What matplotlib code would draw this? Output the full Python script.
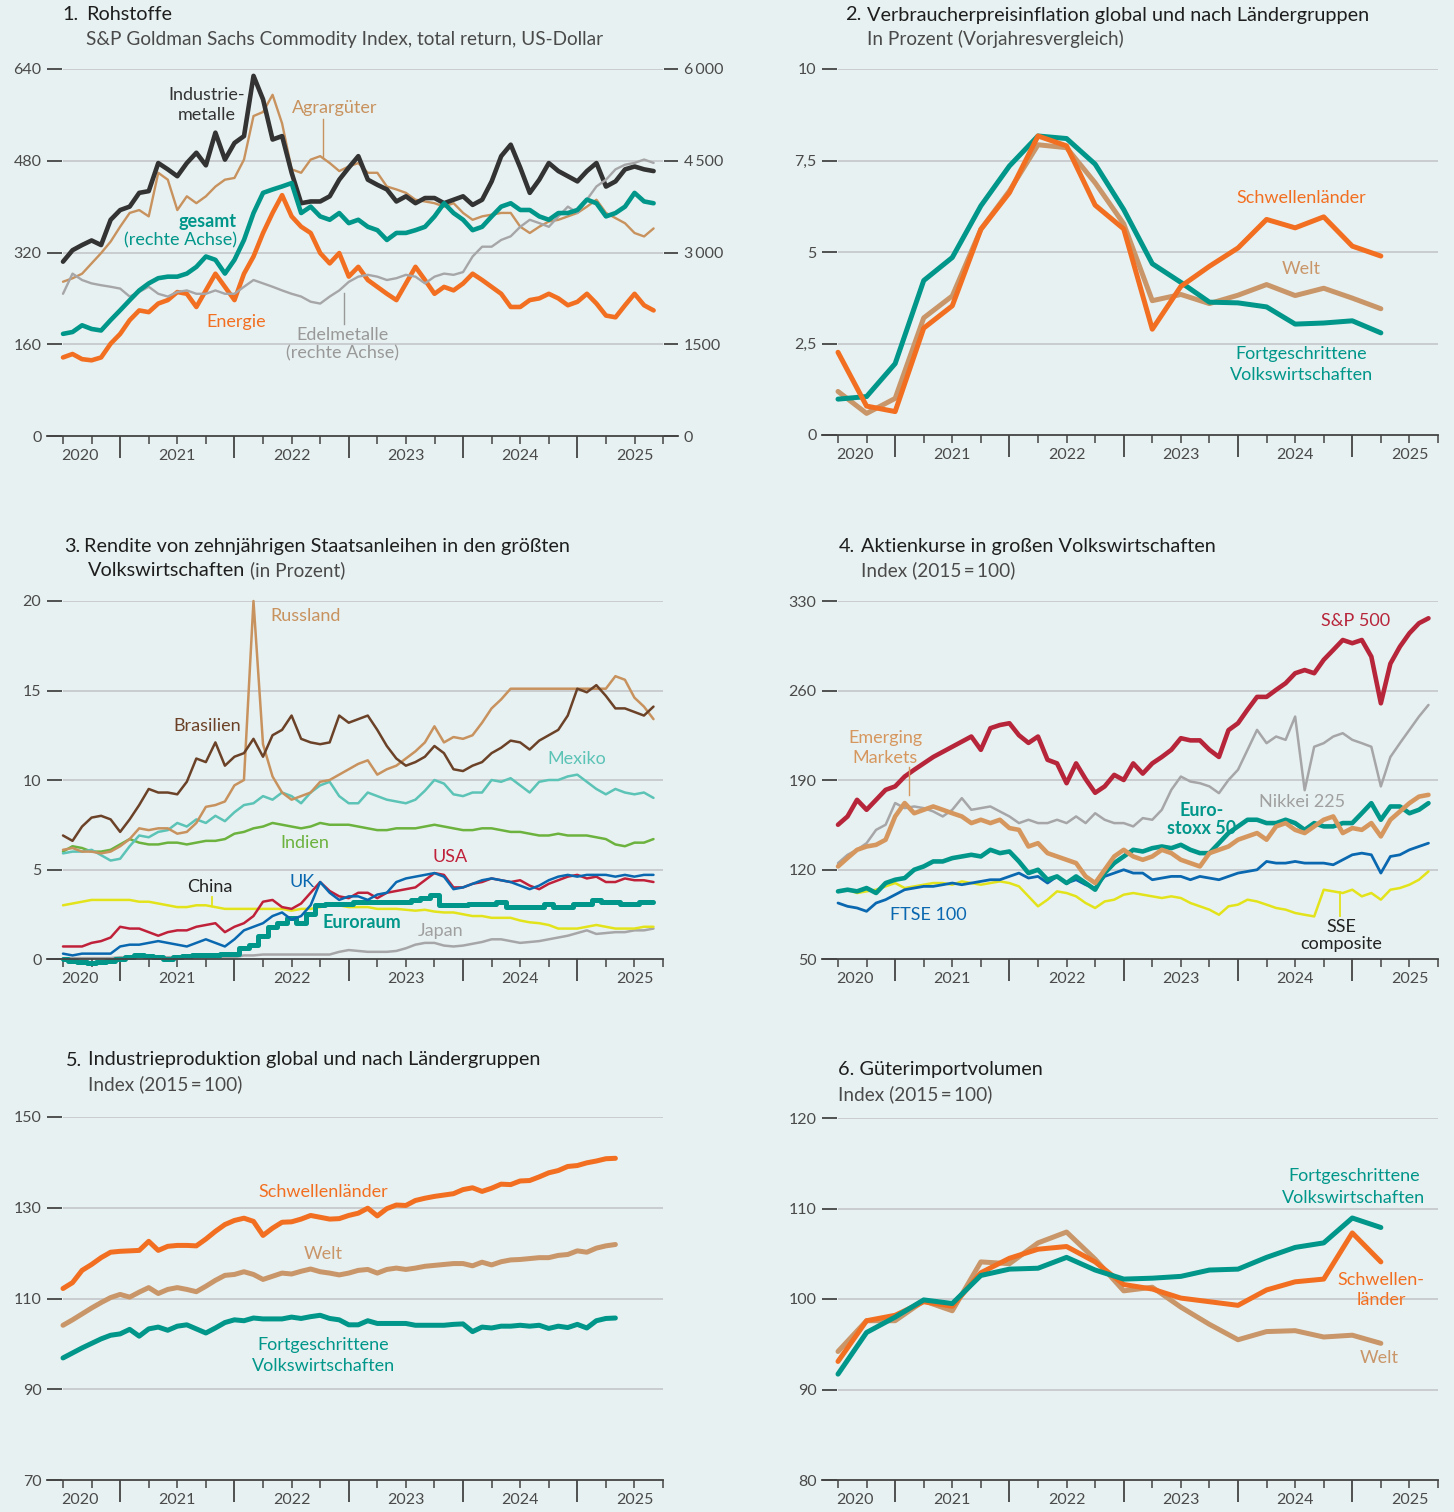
import numpy as np
import matplotlib
matplotlib.use('Agg')
import matplotlib.pyplot as plt
from matplotlib.lines import Line2D

plt.rcParams['font.family'] = ['Lato', 'DejaVu Sans']

# ---------------- data ----------------
START = 2020.5  # first observation (mid-2020)

# Panel 1: S&P GSCI total return (monthly readings)
ind_metals = [304,324,333,341,333,377,394,400,424,427,476,465,453,476,494,472,529,482,511,523,628,587,517,523,459,406,409,409,418,447,468,488,447,438,430,409,418,406,415,415,406,412,418,403,412,444,488,508,468,424,447,476,462,453,444,462,476,435,444,465,470,465,462]
agrar = [269,275,283,301,319,339,365,389,394,383,459,447,394,418,406,418,435,447,450,482,558,565,595,545,465,459,482,488,476,462,470,476,459,459,435,430,424,412,409,406,400,406,389,377,383,386,389,389,365,354,365,374,377,383,389,400,412,389,380,371,354,348,362]
energie = [137,143,134,132,137,161,178,202,219,216,231,237,251,248,225,254,283,260,237,283,313,354,389,420,383,365,354,319,301,319,278,295,272,260,248,237,266,295,272,248,260,254,266,283,272,260,248,225,225,237,240,248,240,228,234,248,231,210,207,228,248,228,219]
gesamt = [1670,1700,1810,1750,1725,1895,2055,2220,2380,2495,2580,2605,2605,2655,2765,2935,2880,2655,2880,3205,3645,3975,4030,4080,4135,3645,3750,3590,3535,3645,3480,3535,3420,3365,3205,3320,3320,3365,3420,3590,3805,3645,3535,3365,3420,3590,3750,3805,3695,3695,3590,3535,3645,3645,3695,3865,3805,3590,3645,3750,3975,3835,3805]
edelmetalle = [2325,2655,2550,2495,2465,2440,2410,2280,2355,2440,2325,2280,2355,2380,2325,2325,2380,2325,2325,2440,2550,2495,2440,2380,2325,2280,2195,2165,2280,2380,2520,2605,2635,2605,2550,2580,2635,2605,2495,2605,2655,2635,2680,2935,3095,3095,3205,3265,3420,3535,3480,3420,3590,3750,3645,3865,4080,4190,4360,4435,4465,4520,4465]

# Panel 2: consumer price inflation (quarterly, %)
cpi_fort = [0.98,1.05,1.95,4.22,4.85,6.26,7.35,8.17,8.10,7.40,6.16,4.68,4.17,3.63,3.61,3.50,3.03,3.06,3.12,2.79]
cpi_schw = [2.26,0.79,0.64,2.92,3.53,5.62,6.62,8.17,7.90,6.28,5.63,2.89,4.06,4.61,5.11,5.89,5.66,5.96,5.16,4.89]
cpi_welt = [1.19,0.59,1.00,3.20,3.80,5.62,6.67,7.93,7.85,6.89,5.77,3.67,3.84,3.59,3.82,4.11,3.81,4.01,3.74,3.45]

# Panel 3: 10-year government bond yields (monthly readings, %)
brasil = [6.9,6.6,7.4,7.9,8.0,7.8,7.1,7.8,8.6,9.5,9.3,9.3,9.2,9.9,11.2,11.0,12.1,10.8,11.3,11.5,12.3,11.3,12.5,12.8,13.6,12.3,12.1,12.0,12.1,13.6,13.2,13.4,13.6,12.8,11.9,11.2,10.8,11.0,11.3,11.9,11.5,10.6,10.5,10.8,11.0,11.5,11.8,12.2,12.1,11.7,12.2,12.5,12.8,13.6,15.1,14.9,15.3,14.7,14.0,14.0,13.8,13.6,14.1]
russland = [6.1,6.2,6.0,6.0,5.9,6.0,6.3,6.7,7.3,7.2,7.3,7.3,7.0,7.1,7.6,8.5,8.6,8.8,9.7,10.0,20.0,12.0,10.2,9.3,8.9,9.1,9.3,9.9,10.0,10.3,10.6,10.9,11.1,10.3,10.6,10.8,11.2,11.6,12.1,13.0,12.1,12.4,12.3,12.5,13.2,14.0,14.5,15.1,15.1,15.1,15.1,15.1,15.1,15.1,15.1,15.1,15.1,15.1,15.8,15.6,14.6,14.1,13.4]
mexiko = [5.9,6.0,6.0,6.1,5.8,5.5,5.6,6.3,6.9,6.8,7.1,7.2,7.6,7.4,7.8,7.6,8.0,7.7,8.2,8.6,8.7,9.1,8.9,9.3,9.1,8.7,9.3,9.7,9.9,9.1,8.7,8.7,9.3,9.1,8.9,8.8,8.7,8.9,9.4,10.0,9.8,9.2,9.1,9.3,9.3,10.0,9.9,10.1,9.7,9.3,9.9,10.0,10.0,10.2,10.3,9.9,9.5,9.2,9.5,9.3,9.2,9.3,9.0]
indien = [6.0,6.3,6.2,6.0,6.0,6.1,6.4,6.7,6.5,6.4,6.4,6.5,6.5,6.4,6.5,6.6,6.6,6.7,7.0,7.1,7.3,7.4,7.6,7.5,7.4,7.3,7.4,7.6,7.5,7.5,7.5,7.4,7.3,7.2,7.2,7.3,7.3,7.3,7.4,7.5,7.4,7.3,7.2,7.2,7.3,7.3,7.2,7.1,7.1,7.0,6.9,6.9,7.0,6.9,6.9,6.9,6.8,6.7,6.4,6.3,6.5,6.5,6.7]
usa = [0.7,0.7,0.7,0.9,1.0,1.2,1.8,1.7,1.7,1.5,1.3,1.5,1.6,1.6,1.8,1.9,2.0,1.5,1.8,2.0,2.4,3.2,3.3,2.9,2.8,3.1,3.7,4.3,3.8,3.5,3.4,3.7,3.7,3.4,3.7,3.8,3.9,4.0,4.4,4.8,4.7,4.0,4.0,4.2,4.3,4.5,4.4,4.3,4.4,4.1,3.9,4.2,4.4,4.6,4.7,4.5,4.6,4.3,4.3,4.5,4.4,4.4,4.3]
uk = [0.3,0.2,0.3,0.3,0.3,0.3,0.7,0.8,0.8,0.9,1.0,0.9,0.8,0.7,0.9,1.1,0.9,0.7,1.1,1.6,1.8,2.0,2.4,2.6,2.2,2.4,3.0,4.3,3.7,3.3,3.5,3.5,3.3,3.6,3.7,4.3,4.5,4.6,4.7,4.8,4.6,3.9,4.0,4.2,4.4,4.5,4.4,4.3,4.1,3.9,4.1,4.4,4.6,4.7,4.6,4.7,4.7,4.7,4.6,4.7,4.6,4.7,4.7]
euroraum = [0.0,-0.1,-0.15,-0.2,-0.15,-0.1,0.0,0.1,0.2,0.15,0.1,0.0,0.1,0.15,0.2,0.2,0.2,0.3,0.3,0.6,0.8,1.3,1.8,2.0,2.3,2.0,2.5,3.0,3.1,3.1,3.1,3.2,3.2,3.2,3.2,3.2,3.2,3.3,3.4,3.6,3.0,3.0,3.0,3.1,3.1,3.1,3.2,2.9,2.9,2.9,2.9,3.1,2.9,2.9,3.1,3.1,3.3,3.2,3.2,3.1,3.1,3.2,3.2]
china = [3.0,3.1,3.2,3.3,3.3,3.3,3.3,3.3,3.2,3.2,3.1,3.0,2.9,2.9,3.0,3.0,2.9,2.8,2.8,2.8,2.8,2.8,2.8,2.8,2.7,2.8,2.8,2.9,3.0,3.0,2.9,2.9,2.9,2.8,2.8,2.8,2.75,2.7,2.75,2.65,2.6,2.6,2.5,2.4,2.4,2.3,2.3,2.3,2.15,2.05,2.0,1.9,1.7,1.7,1.7,1.8,1.9,1.8,1.7,1.7,1.7,1.8,1.8]
japan = [0.04,0.05,0.05,0.05,0.05,0.05,0.1,0.1,0.1,0.1,0.1,0.1,0.1,0.1,0.1,0.1,0.1,0.1,0.1,0.2,0.2,0.25,0.25,0.25,0.25,0.25,0.25,0.25,0.25,0.4,0.5,0.45,0.4,0.4,0.4,0.45,0.6,0.8,0.9,0.9,0.75,0.7,0.75,0.85,0.95,1.1,1.1,1.0,0.9,0.95,1.0,1.1,1.2,1.3,1.45,1.6,1.4,1.45,1.5,1.5,1.6,1.6,1.7]

# Panel 4: stock indices (2015 = 100, monthly readings)
sp500 = [155,161.5,174.5,166.7,174.5,182.3,185,192.7,198,203,208,212,216,220,224,213.6,230.5,233,234.4,225,219,224,205.8,203,187.5,203,190.7,180,185,194,190,203,195,203,208,213.6,222.7,221,221,213.6,208,229,234.4,245,255,255,260.5,265.7,273.5,276,273.5,284,291.7,299.5,297,299.5,286.5,250,281,294.3,304.8,312.6,316.5]
nikkei = [125,131.5,135.4,140.6,151,155,172,168,169.3,168,165.4,161.5,166.7,175.8,166.7,168,169.3,165.4,161.5,156.3,158.9,156.3,156.3,158.9,156.3,161.5,156.3,164,158.9,156.3,156.3,153.7,160.2,158.9,166.7,182.3,192.7,188.8,187.5,185,179.7,190,198,213.6,229.2,218.8,224,221.4,239.6,182,216,218.8,224,226.6,221.4,218.8,216,185,208,218.8,229.2,239.6,248.7]
emerging = [122.4,129,135.4,138,139.3,143.3,161.5,172,164,166.7,169.3,166.7,164,161.5,156.3,158.9,156.3,158.9,152.4,151,138,140.6,132.8,130.2,127.6,125,114.6,109.4,119.8,130.2,135.4,130.2,127.6,130.2,135.4,132.8,127.6,125,122.4,132.8,135.4,138,143.3,145.9,148.5,143.3,153.7,156.3,151,148.5,153.7,158.9,161.5,148.5,152.4,151,156.3,145.9,158.9,165.4,171.9,177,178.4]
eurostoxx = [102.9,104.2,102.9,105.5,101.6,109.4,112,113.3,119.8,122.4,126.3,126.3,128.9,130.2,131.5,130.2,135.4,132.8,134.1,126.3,117.2,119.8,112,114.6,109.4,114.6,109.4,104.2,117.2,125,130.2,135.4,134.1,136.7,138,136.7,139.3,135.4,132.8,132.8,140.6,148.5,153.7,158.9,158.9,156.3,156.3,158.9,156.3,151,156.3,153.7,153.7,156.3,156.3,164,171.9,158.9,169.3,169.3,164,166.7,171.9]
ftse = [93.8,91.2,89.9,87.3,93.8,96.4,100.3,104.2,105.5,106.8,106.8,108.1,109.4,108.1,109.4,110.7,112,112,114.6,117.2,113.3,114.6,109.4,114.6,109.4,112,108.1,105.5,114.6,117.2,119.8,117.2,117.2,112,113.3,114.6,114.6,112,114.6,113.3,112,114.6,117.2,118.5,119.8,126.3,125,125,126.3,125,125,125,123.7,127.6,131.5,132.8,131.5,117.2,130.2,131.5,135.4,138,140.6]
sse = [102.9,104.2,101.6,102.9,104.2,106.8,109.4,105.5,106.8,108.1,109.4,109.4,108.1,110.7,109.4,108.1,109.4,110.7,109.4,106.8,99,91.2,96.4,102.9,101.6,99,93.8,89.9,95,96.4,100.3,101.6,100.3,99,97.7,99,97.7,93.8,91.2,88.6,84.6,91.2,92.5,96.4,95,92.5,89.9,88.6,86,84.6,83.3,104.2,102.9,101.6,104.2,99,101.6,96.4,104.2,105.5,108.1,112,118.5]

# Panel 5: industrial production (monthly, 2015 = 100)
ip_schw = [112.2,113.5,116.2,117.5,119.0,120.2,120.4,120.5,120.6,122.6,120.6,121.5,121.7,121.7,121.6,123.1,124.8,126.3,127.2,127.7,127.0,123.9,125.5,126.8,126.9,127.5,128.3,127.9,127.5,127.6,128.3,128.8,129.9,128.2,129.8,130.6,130.5,131.6,132.1,132.5,132.8,133.1,134.0,134.4,133.6,134.3,135.2,135.1,135.9,136.0,136.8,137.7,138.2,139.1,139.3,139.9,140.3,140.8,140.9]
ip_welt = [104.1,105.3,106.6,107.9,109.1,110.2,110.9,110.3,111.4,112.4,111.1,112.0,112.4,112.0,111.5,112.7,114.0,115.1,115.3,115.9,115.3,114.2,114.9,115.6,115.4,116.0,116.5,115.9,115.6,115.2,115.6,116.2,116.4,115.6,116.4,116.7,116.4,116.7,117.1,117.3,117.5,117.7,117.7,117.2,118.0,117.4,118.1,118.5,118.6,118.8,119.0,119.0,119.5,119.7,120.5,120.2,121.1,121.6,121.9]
ip_fort = [96.9,98.0,99.1,100.1,101.1,101.9,102.2,103.2,101.7,103.3,103.7,103.0,103.9,104.2,103.3,102.4,103.5,104.7,105.3,105.1,105.7,105.5,105.5,105.5,105.9,105.6,106.0,106.3,105.6,105.3,104.2,104.2,105.1,104.5,104.5,104.5,104.5,104.1,104.1,104.1,104.1,104.3,104.4,102.7,103.7,103.5,103.9,103.9,104.1,103.9,104.1,103.4,103.9,103.6,104.3,103.5,105.1,105.6,105.7]

# Panel 6: goods import volume (quarterly, 2015 = 100)
imp_fort = [91.7,96.3,98.0,99.9,99.5,102.6,103.3,103.4,104.6,103.2,102.2,102.3,102.5,103.2,103.3,104.6,105.7,106.2,108.95,107.9]
imp_schw = [93.1,97.6,98.2,99.7,99.2,102.9,104.5,105.5,105.8,104.1,101.6,101.1,100.1,99.7,99.3,101.0,101.9,102.2,107.3,104.1]
imp_welt = [94.2,97.6,97.6,99.8,98.7,104.1,103.9,106.2,107.4,104.4,100.9,101.3,99.1,97.2,95.5,96.4,96.5,95.8,96.0,95.1]

YEAR_LABELS = ['2020', '2021', '2022', '2023', '2024', '2025']

# ---------------- styling ----------------
W, H = 1454, 1512
BG = '#e8f1f1'
GRID = '#c6cacc'
AXC = '#444444'
LBL = '#4a4a4a'
TEAL = '#00968a'
ORANGE = '#f26f21'
TAN = '#c8925e'
WELT = '#c9966a'
DARK = '#333333'
GRAY = '#a6a6a8'
BROWN = '#6b4228'
TURQ = '#5cc3b7'
GREEN = '#6cb23e'
RED = '#c0213a'
SPRED = '#b7253a'
BLUE = '#0a68b0'
YELLOW = '#e3e31b'
EMTAN = '#d6975f'

TS = 11.5   # tick label size
FS = 13.0   # annotation size
TF = 14.3   # title size
SF = 13.7   # subtitle size

fig = plt.figure(figsize=(W / 100, H / 100), dpi=100, facecolor=BG)

XL = 2020.36
X0 = 2020.5
LONG = [2021, 2022, 2023, 2024, 2025]
SHORT = [y + q for y in range(2020, 2026) for q in (0.25, 0.5, 0.75) if 2020.5 <= y + q <= 2025.75]
YEAR_POS = [2020.65, 2021.5, 2022.5, 2023.5, 2024.5, 2025.5]


def px_rect(x0, y0, x1, y1):
    return [x0 / W, 1 - y1 / H, (x1 - x0) / W, (y1 - y0) / H]


def setup(rect, xright, ylim, yticks, ylabels, grid_end=2025.75):
    ax = fig.add_axes(px_rect(*rect))
    ax.patch.set_alpha(0)
    ax.set_xlim(XL, xright)
    ax.set_ylim(*ylim)
    for s in ('top', 'right', 'left'):
        ax.spines[s].set_visible(False)
    ax.spines['bottom'].set_color(AXC)
    ax.spines['bottom'].set_linewidth(1.3)
    ax.set_yticks(yticks)
    ax.set_yticklabels(ylabels)
    ax.tick_params(axis='y', length=0, pad=4, labelsize=TS, labelcolor=LBL)
    ax.hlines(yticks[1:], X0, grid_end, color=GRID, lw=1.3, zorder=0)
    ax.hlines(yticks, XL, X0 - 0.01, color=AXC, lw=1.3, zorder=0, clip_on=False)
    ax.set_xticks(LONG)
    ax.set_xticks(SHORT, minor=True)
    ax.tick_params(axis='x', which='major', length=15.5, width=1.3, color=AXC,
                   labelbottom=False, direction='out')
    ax.tick_params(axis='x', which='minor', length=5.5, width=1.1, color=AXC,
                   direction='out')
    for lab, xp in zip(YEAR_LABELS, YEAR_POS):
        ax.annotate(lab, xy=(xp, 0), xycoords=('data', 'axes fraction'),
                    xytext=(0, -14.5), textcoords='offset points',
                    ha='center', va='center', fontsize=TS, color=LBL)
    return ax


def mx(vals):
    return START + np.arange(len(vals)) / 12.0


def qx(vals):
    return START + np.arange(len(vals)) * 0.25


def line(ax, x, y, color, lw, **kw):
    ax.plot(x, y, color=color, lw=lw, solid_capstyle='round',
            solid_joinstyle='round', clip_on=False, **kw)


def ftxt(x, y, s, color='#222222', size=FS, ha='center', weight='normal', **kw):
    return fig.text(x / W, 1 - y / H, s, color=color, fontsize=size, ha=ha,
                    va='center', fontweight=weight, **kw)


def leader(x0, y0, x1, y1, color, lw=1.0):
    fig.add_artist(Line2D([x0 / W, x1 / W], [1 - y0 / H, 1 - y1 / H],
                          color=color, lw=lw))


def title(num_x, txt_x, y, num, txt, sub, sub_y):
    ftxt(num_x, y, num, color='#1e1e1e', size=TF, ha='left')
    ftxt(txt_x, y, txt, color='#1e1e1e', size=TF, ha='left')
    if sub:
        ftxt(txt_x, sub_y, sub, color='#4a4a4a', size=SF, ha='left')


THICK = 3.3

# ---------------- Panel 1 ----------------
ax1 = setup((47, 69, 678, 436), 2025.88, (0, 640), [0, 160, 320, 480, 640],
            ['0', '160', '320', '480', '640'])
ax1.hlines([0, 160, 320, 480, 640], 2025.76, 2025.88, color=AXC, lw=1.3, clip_on=False)
line(ax1, mx(agrar), agrar, TAN, 1.7)
line(ax1, mx(energie), energie, ORANGE, THICK)
line(ax1, mx(ind_metals), ind_metals, DARK, THICK)
ax1b = ax1.twinx()
ax1b.patch.set_alpha(0)
ax1b.set_ylim(0, 6000)
for s in ('top', 'right', 'left', 'bottom'):
    ax1b.spines[s].set_visible(False)
ax1b.set_yticks([0, 1500, 3000, 4500, 6000])
ax1b.set_yticklabels(['0', '1500', '3\u2009000', '4\u2009500', '6\u2009000'])
ax1b.tick_params(axis='y', length=0, pad=4, labelsize=TS, labelcolor=LBL)
line(ax1b, mx(edelmetalle), edelmetalle, GRAY, 1.7)
line(ax1b, mx(gesamt), gesamt, TEAL, THICK)

title(62, 86, 15, '1.', 'Rohstoffe',
      'S&P Goldman Sachs Commodity Index, total return, US-Dollar', 39)
ftxt(207, 95, 'Industrie-', DARK)
ftxt(207, 115, 'metalle', DARK)
ftxt(335, 108, 'Agrargüter', TAN)
leader(323, 119, 323, 158, TAN)
ftxt(237, 222, 'gesamt', TEAL, ha='right', weight='bold')
ftxt(237, 240, '(rechte Achse)', TEAL, ha='right')
ftxt(236, 322, 'Energie', ORANGE)
ftxt(342, 335, 'Edelmetalle', '#999999')
ftxt(342, 353, '(rechte Achse)', '#999999')
leader(344, 293, 344, 324, '#999999')

# ---------------- Panel 2 ----------------
ax2 = setup((822, 69, 1438, 435), 2025.75, (0, 10), [0, 2.5, 5, 7.5, 10],
            ['0', '2,5', '5', '7,5', '10'])
line(ax2, qx(cpi_welt), cpi_welt, WELT, 3.6)
line(ax2, qx(cpi_fort), cpi_fort, TEAL, 3.6)
line(ax2, qx(cpi_schw), cpi_schw, ORANGE, 3.6)
title(845, 867, 15, '2.', 'Verbraucherpreisinflation global und nach Ländergruppen',
      'In Prozent (Vorjahresvergleich)', 39)
ftxt(1301, 198, 'Schwellenländer', ORANGE)
ftxt(1301, 269, 'Welt', WELT)
ftxt(1301, 354, 'Fortgeschrittene', TEAL)
ftxt(1301, 375, 'Volkswirtschaften', TEAL)

# ---------------- Panel 3 ----------------
ax3 = setup((47, 601, 663, 959), 2025.75, (0, 20), [0, 5, 10, 15, 20],
            ['0', '5', '10', '15', '20'])
line(ax3, mx(japan), japan, GRAY, 1.8)
line(ax3, mx(china), china, YELLOW, 1.8)
line(ax3, mx(euroraum), euroraum, TEAL, 3.6, drawstyle='steps-mid')
line(ax3, mx(usa), usa, RED, 1.8)
line(ax3, mx(uk), uk, BLUE, 1.8)
line(ax3, mx(indien), indien, GREEN, 1.8)
line(ax3, mx(mexiko), mexiko, TURQ, 1.8)
line(ax3, mx(russland), russland, TAN, 1.8)
line(ax3, mx(brasil), brasil, BROWN, 1.8)
ftxt(64, 546, '3.', color='#1e1e1e', size=TF, ha='left')
ftxt(84, 546, 'Rendite von zehnjährigen Staatsanleihen in den größten',
     color='#1e1e1e', size=TF, ha='left')
t3 = ftxt(88, 570, 'Volkswirtschaften', color='#1e1e1e', size=TF, ha='left')
rend = fig.canvas.get_renderer()
bb = t3.get_window_extent(renderer=rend)
ftxt(bb.x1 + 5, 570, '(in Prozent)', color='#4a4a4a', size=SF, ha='left')
ftxt(306, 616, 'Russland', TAN)
ftxt(207, 726, 'Brasilien', BROWN)
ftxt(577, 759, 'Mexiko', TURQ)
ftxt(305, 843, 'Indien', GREEN)
ftxt(450, 857, 'USA', RED)
ftxt(302, 882, 'UK', BLUE)
ftxt(210, 887, 'China', '#222222')
leader(212, 897, 212, 906, YELLOW, 1.3)
ftxt(362, 923, 'Euroraum', TEAL, weight='bold')
ftxt(441, 931, 'Japan', '#a0a0a0')

# ---------------- Panel 4 ----------------
ax4 = setup((822, 601, 1438, 959), 2025.75, (50, 330), [50, 120, 190, 260, 330],
            ['50', '120', '190', '260', '330'])
line(ax4, mx(sse), sse, YELLOW, 1.8)
line(ax4, mx(nikkei), nikkei, GRAY, 1.8)
line(ax4, mx(ftse), ftse, BLUE, 2.0)
line(ax4, mx(eurostoxx), eurostoxx, TEAL, THICK)
line(ax4, mx(emerging), emerging, EMTAN, THICK)
line(ax4, mx(sp500), sp500, SPRED, THICK)
title(839, 861, 546, '4.', 'Aktienkurse in großen Volkswirtschaften',
      'Index (2015\u2009=\u2009100)', 570)
ftxt(1356, 621, 'S&P 500', SPRED)
ftxt(885, 738, 'Emerging', EMTAN)
ftxt(885, 758, 'Markets', EMTAN)
leader(909, 767, 909, 795, EMTAN)
ftxt(1302, 802, 'Nikkei 225', '#a0a0a0')
ftxt(1202, 811, 'Euro-', TEAL, weight='bold')
ftxt(1202, 829, 'stoxx 50', TEAL, weight='bold')
ftxt(928, 915, 'FTSE 100', BLUE)
ftxt(1341, 927, 'SSE', '#222222')
ftxt(1341, 944, 'composite', '#222222')
leader(1340, 892, 1340, 916, YELLOW, 1.3)

# ---------------- Panel 5 ----------------
ax5 = setup((47, 1117, 663, 1480), 2025.75, (70, 150), [70, 90, 110, 130, 150],
            ['70', '90', '110', '130', '150'])
line(ax5, mx(ip_fort), ip_fort, TEAL, 3.6)
line(ax5, mx(ip_welt), ip_welt, WELT, 3.6)
line(ax5, mx(ip_schw), ip_schw, ORANGE, 3.6)
title(66, 88, 1060, '5.', 'Industrieproduktion global und nach Ländergruppen',
      'Index (2015\u2009=\u2009100)', 1084)
ftxt(323, 1192, 'Schwellenländer', ORANGE)
ftxt(323, 1254, 'Welt', WELT)
ftxt(323, 1345, 'Fortgeschrittene', TEAL)
ftxt(323, 1366, 'Volkswirtschaften', TEAL)

# ---------------- Panel 6 ----------------
ax6 = setup((822, 1118, 1438, 1480), 2025.75, (80, 120), [80, 90, 100, 110, 120],
            ['80', '90', '100', '110', '120'])
line(ax6, qx(imp_welt), imp_welt, WELT, 3.6)
line(ax6, qx(imp_schw), imp_schw, ORANGE, 3.6)
line(ax6, qx(imp_fort), imp_fort, TEAL, 3.6)
ftxt(838, 1070, '6. Güterimportvolumen', color='#1e1e1e', size=TF, ha='left')
ftxt(838, 1094, 'Index (2015\u2009=\u2009100)', color='#4a4a4a', size=SF, ha='left')
ftxt(1354, 1176, 'Fortgeschrittene', TEAL)
ftxt(1354, 1198, 'Volkswirtschaften', TEAL)
ftxt(1381, 1280, 'Schwellen-', ORANGE)
ftxt(1381, 1300, 'länder', ORANGE)
ftxt(1379, 1358, 'Welt', WELT)

fig.savefig('out.png', dpi=100, facecolor=BG)
